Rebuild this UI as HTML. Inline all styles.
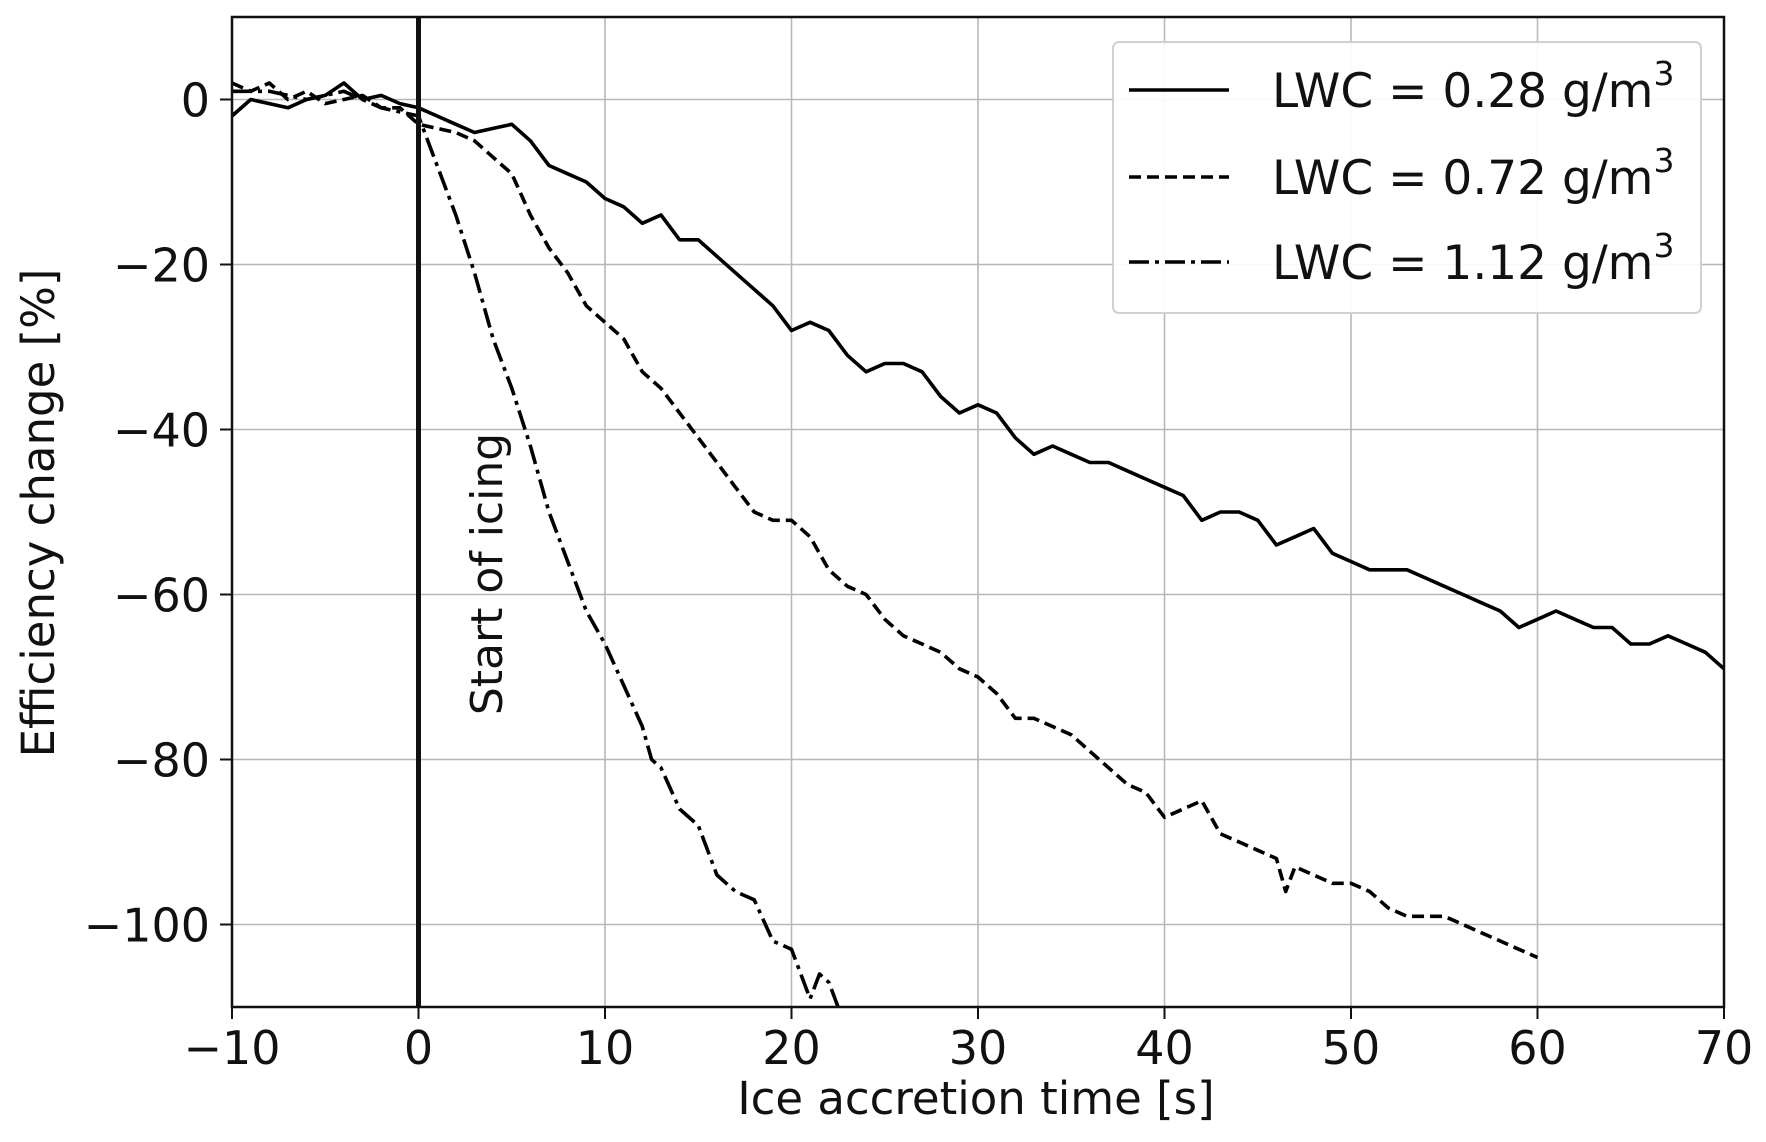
<!DOCTYPE html>
<html><head><meta charset="utf-8">
<style>
html,body{margin:0;padding:0;background:#fff;}
svg{display:block;font-family:"DejaVu Sans","Liberation Sans",sans-serif;}
</style></head>
<body>
<svg id="chart" width="1766" height="1142" viewBox="0 0 1766 1142" xmlns="http://www.w3.org/2000/svg">
<g id="grid"></g>
<g id="series"></g>
<g id="axes"></g>
<text x="976" y="1114" font-size="45" text-anchor="middle" fill="#111">Ice accretion time [s]</text>
<text transform="translate(54,513) rotate(-90)" font-size="45" text-anchor="middle" fill="#111">Efficiency change [%]</text>
<g id="legend"></g>
</svg>
<script>
const xTicks=[-10,0,10,20,30,40,50,60,70];
const yTicks=[0,-20,-40,-60,-80,-100];
const tx0=[-10,-9,-7,-6,-5,-4,-3,-2,-1,0,1,2,3,4,5,6,7,8,9,10,11,12,13,14,15,16,17,18,19,20,21,22,23,24,25,26,27,28,29,30,31,32,33,34,35,36,37,38,40,41,42,43,44,45,46,47,48,49,50,51,52,53,54,55,56,57,58,59,60,61,62,63,64,65,66,67,68,69,70];
const lwc028=[-2,0,-1,0,0.5,2,0,0.5,-0.5,-1,-2,-3,-4,-3.5,-3,-5,-8,-9,-10,-12,-13,-15,-14,-17,-17,-19,-21,-23,-25,-28,-27,-28,-31,-33,-32,-32,-33,-36,-38,-37,-38,-41,-43,-42,-43,-44,-44,-45,-47,-48,-51,-50,-50,-51,-54,-53,-52,-55,-56,-57,-57,-57,-58,-59,-60,-61,-62,-64,-63,-62,-63,-64,-64,-66,-66,-65,-66,-67,-69];
const tx1=[-10,-9,-8,-7,-6,-5,-4,-3,-2,-1,0,1,2,3,4,5,6,7,8,9,10,11,12,13,14,15,16,17,18,19,20,21,22,23,24,25,26,27,28,29,30,31,32,33,34,35,36,37,38,39,40,41,42,43,44,45,46,46.5,47,48,49,50,51,52,53,54,55,56,57,58,59,60];
const lwc072=[2,1,2,0,1,-0.5,0,0.5,-1,-1,-3,-3.5,-4,-5,-7,-9,-14,-18,-21,-25,-27,-29,-33,-35,-38,-41,-44,-47,-50,-51,-51,-53,-57,-59,-60,-63,-65,-66,-67,-69,-70,-72,-75,-75,-76,-77,-79,-81,-83,-84,-87,-86,-85,-89,-90,-91,-92,-96,-93,-94,-95,-95,-96,-98,-99,-99,-99,-100,-101,-102,-103,-104];
const tx2=[-10,-8,-6,-4,-2,0,1,2,3,4,5,6,7,8,9,10,11,12,12.5,13,14,15,16,17,18,19,20,21,21.5,22,22.5];
const lwc112=[1,1,0,1,-1,-2,-8,-14,-21,-29,-35,-42,-50,-56,-62,-66,-71,-76,-80,-81,-86,-88,-94,-96,-97,-102,-103,-109,-106,-107,-110];
const seriesLabels=["LWC = 0.28 g/m","LWC = 0.72 g/m","LWC = 1.12 g/m"];

const L=232,R=1724,T=17,B=1007,XMIN=-10,XMAX=70,YMIN=-110,YMAX=10;
const sx=v=>L+(v-XMIN)/(XMAX-XMIN)*(R-L);
const sy=v=>T+(YMAX-v)/(YMAX-YMIN)*(B-T);
const NS="http://www.w3.org/2000/svg";
function mk(tag,attrs,parent){const e=document.createElementNS(NS,tag);for(const k in attrs)e.setAttribute(k,attrs[k]);parent.appendChild(e);return e;}
const grid=document.getElementById('grid'),axes=document.getElementById('axes'),ser=document.getElementById('series'),leg=document.getElementById('legend');

xTicks.forEach(v=>{
  const g=mk('line',{x1:sx(v),x2:sx(v),y1:T,y2:B,stroke:'#b8b8b8','stroke-width':1.6},grid);
  
  
  const t=mk('line',{x1:sx(v),x2:sx(v),y1:B,y2:B+12,stroke:'#111','stroke-width':2},axes);
  
  
  const lb=mk('text',{x:sx(v),y:B+57,'font-size':46,'text-anchor':'middle',fill:'#111'},axes);
  lb.textContent=(v<0?'\u2212'+Math.abs(v):String(v));
  
  
});
yTicks.forEach(v=>{
  const g=mk('line',{x1:L,x2:R,y1:sy(v),y2:sy(v),stroke:'#b8b8b8','stroke-width':1.6},grid);
  
  
  const t=mk('line',{x1:L-12,x2:L,y1:sy(v),y2:sy(v),stroke:'#111','stroke-width':2},axes);
  
  
  const lb=mk('text',{x:L-22,y:sy(v)+17,'font-size':46,'text-anchor':'end',fill:'#111'},axes);
  lb.textContent=(v<0?'\u2212'+Math.abs(v):String(v));
  
  
});
const frame=mk('rect',{x:L,y:T,width:R-L,height:B-T,fill:'none',stroke:'#111','stroke-width':2.5},axes);



const dashes=['none','12 6','20 6 4 6'];
const xs=[tx0,tx1,tx2], ys=[lwc028,lwc072,lwc112];
const names=['series-lwc-0.28','series-lwc-0.72','series-lwc-1.12'];
for(let i=0;i<3;i++){
  const d=xs[i].map((x,j)=>(j?'L':'M')+sx(x).toFixed(1)+','+sy(Math.max(ys[i][j],YMIN)).toFixed(1)).join(' ');
  const p=mk('path',{d:d,fill:'none',stroke:'#000','stroke-width':3.6,'stroke-linejoin':'round','stroke-dasharray':dashes[i]},ser);
  
  
}
const vl=mk('line',{x1:sx(0),x2:sx(0),y1:T,y2:B,stroke:'#111','stroke-width':5},ser);


const at=mk('text',{transform:'translate(502,574) rotate(-90)','font-size':44,'text-anchor':'middle',fill:'#111'},ser);
at.textContent='Start of icing';



const box=mk('rect',{x:1113,y:42,width:588,height:271,rx:6,fill:'#fff','fill-opacity':0.9,stroke:'#d0d0d0','stroke-width':2},leg);


const ly=[90,177,262];
for(let i=0;i<3;i++){
  const g=mk('g',{},leg);
  
  
  mk('line',{x1:1129,x2:1229,y1:ly[i],y2:ly[i],stroke:'#000','stroke-width':3.6,'stroke-dasharray':dashes[i]},g);
  const t=mk('text',{x:1272,y:ly[i]+17,'font-size':47,fill:'#111'},g);
  t.textContent=seriesLabels[i];
  const s=mk('tspan',{'font-size':33,dy:-22},t);
  s.textContent='3';
}
</script>
</body></html>
